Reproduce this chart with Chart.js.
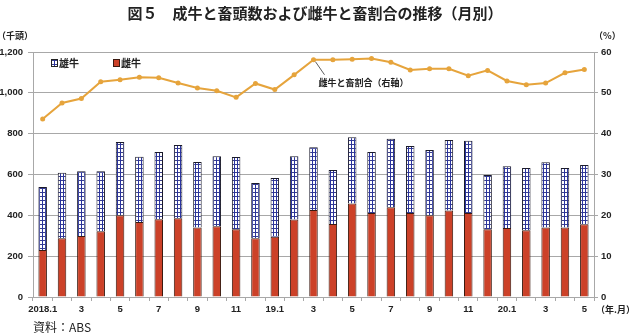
<!DOCTYPE html>
<html>
<head>
<meta charset="utf-8">
<script src="https://cdn.jsdelivr.net/npm/chart.js@4.4.1/dist/chart.umd.min.js"></script>
<style>
  html, body { margin: 0; padding: 0; background: #fff; }
  #wrap { width: 630px; height: 336px; position: relative; }
</style>
</head>
<body>
<div id="wrap"><canvas id="c" width="630" height="336"></canvas></div>
<script>
// ----- data -----
const months = [
  "2018.1","2","3","4","5","6","7","8","9","10","11","12",
  "19.1","2","3","4","5","6","7","8","9","10","11","12",
  "20.1","2","3","4","5"
];
// 雌牛 (千頭)
const femaleHead = [230, 288, 299, 322, 400, 367, 381, 386, 340, 346, 332, 288,
                    295, 380, 426, 358, 458, 412, 440, 411, 400, 424, 411, 332,
                    338, 327, 341, 341, 356];
// 雄牛 (千頭)
const maleHead = [309, 320, 317, 294, 359, 320, 329, 358, 321, 344, 354, 270,
                  288, 310, 308, 264, 325, 298, 335, 328, 320, 345, 354, 265,
                  303, 305, 319, 291, 290];
// 雌牛と畜割合 (%)
const femaleRatio = [43.6, 47.5, 48.6, 52.7, 53.2, 53.8, 53.7, 52.4, 51.2, 50.5, 48.9, 52.3,
                     50.8, 54.4, 58.1, 58.1, 58.2, 58.4, 57.5, 55.6, 55.9, 55.9, 54.2, 55.5,
                     52.9, 52.0, 52.4, 54.9, 55.7];
const leftTicks = [0, 200, 400, 600, 800, 1000, 1200];
const rightTicks = [0, 10, 20, 30, 40, 50, 60];

// ----- styles -----
const RED = "#cc4128";
const LINE = "#e6a43c";
const GRID = "#a8a8a8";
const TXT = "#222";
const TICK_FONT = { family: "'Liberation Sans', Arial, sans-serif", size: 9.5, weight: "bold" };
const JP = "'Noto Sans CJK JP', sans-serif";

// grid pattern for 雄牛 (blue verticals, thin dark horizontals)
function makePattern() {
  const t = document.createElement("canvas");
  t.width = 3; t.height = 4;
  const g = t.getContext("2d");
  g.fillStyle = "#fff"; g.fillRect(0, 0, 3, 4);
  g.fillStyle = "#3a3f8a"; g.fillRect(0, 0, 3, 1);
  g.fillStyle = "#2a34a0"; g.fillRect(0, 0, 1, 4);
  return g.createPattern(t, "repeat");
}
const ctx = document.getElementById("c").getContext("2d");
const PATTERN = makePattern();

// ----- extra texts, legend, annotation -----
const extras = {
  id: "extras",
  afterDraw(chart) {
    const c = chart.ctx;
    c.save();
    c.fillStyle = TXT;
    // title
    c.font = "bold 15px " + JP;
    c.textAlign = "center"; c.textBaseline = "middle";
    c.fillText("図５　成牛と畜頭数および雌牛と畜割合の推移（月別）", 315, 13);
    // units
    c.font = "bold 9px " + JP;
    c.textAlign = "left";
    c.fillText("（千頭）", -3, 36);
    c.fillText("（%）", 594, 36);
    c.fillText("（年.月）", 596, 310);
    // source
    c.font = "12px " + JP;
    c.fillText("資料：ABS", 33, 327);

    // legend
    c.font = "bold 10px " + JP;
    c.textBaseline = "middle";
    c.fillStyle = PATTERN; c.fillRect(51, 59, 7, 8);
    c.strokeStyle = "#222"; c.lineWidth = 1; c.strokeRect(51.5, 59.5, 6, 7);
    c.fillStyle = TXT; c.fillText("雄牛", 59, 63);
    c.fillStyle = RED; c.fillRect(113, 59, 7, 8);
    c.strokeStyle = "#3a1a10"; c.strokeRect(113.5, 59.5, 6, 7);
    c.fillStyle = TXT; c.fillText("雌牛", 121, 63);

    // annotation for the line
    const meta = chart.getDatasetMeta(2);
    const p = meta.data[14];
    if (p) {
      c.strokeStyle = "#333"; c.lineWidth = 0.8;
      c.beginPath(); c.moveTo(p.x + 2, p.y + 2); c.lineTo(p.x + 11, p.y + 15); c.stroke();
      c.font = "bold 9px " + JP;
      c.fillStyle = TXT;
      c.fillText("雌牛と畜割合（右軸）", p.x + 5, p.y + 23);
    }
    c.restore();
  }
};

new Chart(ctx, {
  type: "bar",
  data: {
    labels: months,
    datasets: [
      {
        label: "雌牛", data: femaleHead, yAxisID: "y", stack: "s", order: 2,
        backgroundColor: RED, borderColor: "#3a1a10", borderWidth: 1,
        barPercentage: 0.44, categoryPercentage: 1
      },
      {
        label: "雄牛", data: maleHead, yAxisID: "y", stack: "s", order: 3,
        backgroundColor: PATTERN, borderColor: "#1a1a2a", borderWidth: 1,
        barPercentage: 0.44, categoryPercentage: 1
      },
      {
        type: "line", label: "雌牛と畜割合（右軸）", data: femaleRatio, yAxisID: "y2", order: 1,
        borderColor: LINE, borderWidth: 2, backgroundColor: LINE,
        pointRadius: 2.5, pointBackgroundColor: LINE, pointBorderWidth: 0,
        tension: 0, fill: false
      }
    ]
  },
  options: {
    responsive: false,
    animation: false,
    layout: { padding: { top: 52, left: 0, right: 0, bottom: 0 } },
    plugins: { legend: { display: false }, tooltip: { enabled: false }, title: { display: false } },
    scales: {
      x: {
        stacked: true,
        afterFit(s) { s.height = 39; },
        grid: { offset: true, drawOnChartArea: false, drawTicks: true, tickLength: 4, color: GRID },
        border: { color: GRID },
        ticks: {
          autoSkip: false, maxRotation: 0, padding: 3, color: TXT, font: TICK_FONT,
          callback: (v, i) => (i % 2 === 0 ? months[i] : "")
        }
      },
      y: {
        position: "left", stacked: true, min: 0, max: 1200,
        afterFit(s) { s.width = 33; },
        afterBuildTicks(s) { s.ticks = leftTicks.map(v => ({ value: v })); },
        grid: { color: GRID, tickLength: 5 },
        border: { color: GRID },
        ticks: {
          padding: 5, color: TXT, font: TICK_FONT,
          callback: v => v.toLocaleString("en-US")
        }
      },
      y2: {
        position: "right", min: 0, max: 60,
        afterFit(s) { s.width = 36; },
        afterBuildTicks(s) { s.ticks = rightTicks.map(v => ({ value: v })); },
        grid: { drawOnChartArea: false, color: GRID, tickLength: 4 },
        border: { color: GRID },
        ticks: { padding: 3, color: TXT, font: TICK_FONT }
      }
    }
  },
  plugins: [extras]
});
</script>
</body>
</html>
